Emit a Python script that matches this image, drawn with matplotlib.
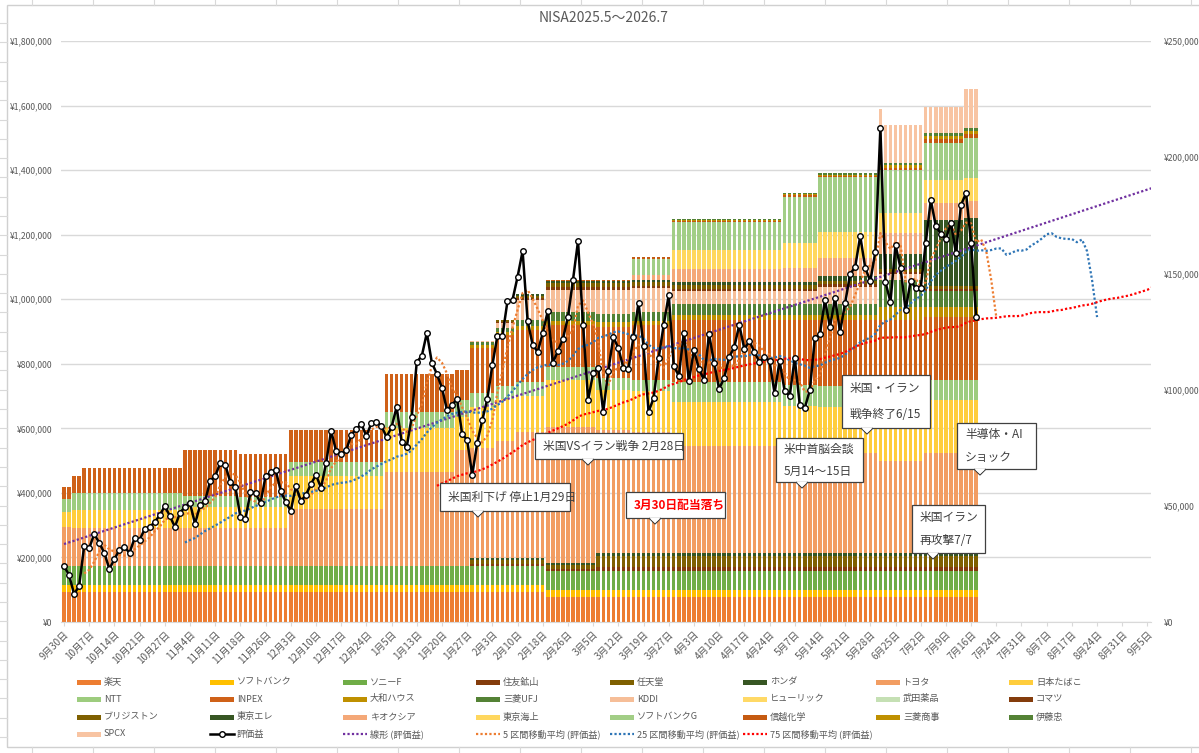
import numpy as np
import pandas as pd
import matplotlib
matplotlib.use("Agg")
import matplotlib.pyplot as plt
from matplotlib.patches import Rectangle, Polygon
from matplotlib.lines import Line2D
from matplotlib.ticker import FuncFormatter, MultipleLocator

plt.rcParams['font.family'] = ['Noto Sans CJK JP', 'DejaVu Sans']

# ---- data -------------------------------------------------------------
tick_labels = ['9月30日', '10月7日', '10月14日', '10月21日', '10月27日', '11月4日',
               '11月11日', '11月18日', '11月26日', '12月3日', '12月10日', '12月17日',
               '12月24日', '1月5日', '1月13日', '1月20日', '1月27日', '2月3日',
               '2月10日', '2月18日', '2月26日', '3月5日', '3月12日', '3月19日',
               '3月27日', '4月3日', '4月10日', '4月17日', '4月24日', '5月7日',
               '5月14日', '5月21日', '5月28日', '6月25日', '7月2日', '7月9日',
               '7月16日', '7月24日', '7月31日', '8月7日', '8月17日', '8月24日',
               '8月31日', '9月5日']
n_cats = 217      # category slots on the axis (data + blank future days)
n_bars = 182      # days with data

# holdings (thousand yen), one value per period; period starts below
period_start = [0, 2, 4, 24, 35, 45, 64, 78, 81, 86, 90, 96, 106, 113, 121, 143, 150, 162, 163, 171, 179]

rakuten   = [93, 93, 93, 93, 93, 93, 93, 93, 93, 93, 93, 78, 78, 78, 78, 78, 78, 78, 78, 78, 78]
softbank  = [21] * 21
sony      = [60] * 21
sumitomo  = [0, 0, 0, 0, 0, 0, 0, 0, 5, 5, 5, 5, 12, 12, 12, 12, 12, 12, 12, 12, 12]
nintendo  = [0, 0, 0, 0, 0, 0, 0, 0, 12, 12, 12, 12, 32, 32, 32, 32, 32, 32, 32, 32, 32]
honda     = [0, 0, 0, 0, 0, 0, 0, 0, 6, 6, 6, 6, 12, 12, 12, 12, 12, 12, 12, 12, 12]
toyota    = [121, 118, 118, 116, 116, 176, 291, 359, 341, 363, 393, 422, 380, 375, 330, 315, 310, 285, 285, 309, 309]
jt        = [45, 55, 55, 65, 67, 102, 135, 102, 128, 130, 110, 146, 125, 125, 137, 140, 140, 188, 188, 164, 164]
ntt       = [40, 53, 53, 35, 31, 44, 50, 53, 43, 40, 45, 40, 35, 35, 62, 65, 65, 62, 62, 62, 62]
inpex     = [38, 52, 77, 143, 132, 99, 118, 92, 141, 160, 160, 130, 160, 170, 191, 200, 205, 185, 185, 195, 195]
daiwa     = [0, 0, 0, 0, 0, 0, 0, 0, 8, 10, 12, 14, 14, 14, 15, 15, 15, 41, 41, 31, 31]
mufg      = [0, 0, 0, 0, 0, 0, 0, 0, 8, 12, 20, 25, 25, 25, 35, 35, 35, 83, 83, 50, 50]
kddi      = [0, 0, 0, 0, 0, 0, 0, 0, 4, 15, 60, 70, 75, 75, 40, 40, 53, 20, 20, 0, 0]
hulic     = [0] * 21
takeda    = [0] * 21
komatsu   = [0, 0, 0, 0, 0, 0, 0, 0, 0, 3, 6, 8, 8, 8, 8, 8, 8, 5, 5, 5, 5]
bridgestone = [0, 0, 0, 0, 0, 0, 0, 0, 0, 5, 8, 12, 12, 12, 12, 12, 12, 10, 10, 10, 10]
tel       = [0, 0, 0, 0, 0, 0, 0, 0, 0, 0, 4, 6, 6, 6, 8, 8, 15, 47, 47, 205, 212]
kioxia    = [0, 0, 0, 0, 0, 0, 0, 0, 0, 0, 0, 0, 0, 15, 40, 45, 55, 63, 63, 52, 52]
tokio     = [0, 0, 0, 0, 0, 0, 0, 0, 0, 0, 0, 0, 0, 0, 60, 75, 80, 62, 62, 71, 71]
sbg       = [0, 0, 0, 0, 0, 0, 0, 0, 0, 0, 0, 0, 0, 50, 85, 145, 170, 135, 135, 115, 125]
shinetsu  = [0, 0, 0, 0, 0, 0, 0, 0, 0, 0, 0, 5, 5, 5, 4, 4, 4, 7, 7, 11, 11]
mitsubishi = [0, 0, 0, 0, 0, 0, 0, 0, 0, 0, 0, 0, 0, 0, 4, 4, 4, 7, 7, 10, 10]
itochu    = [0, 0, 0, 0, 0, 0, 0, 0, 0, 0, 0, 0, 0, 0, 4, 4, 4, 7, 7, 10, 10]
spcx      = [0, 0, 0, 0, 0, 0, 0, 0, 0, 0, 0, 0, 0, 0, 0, 0, 0, 168, 118, 80, 118]

# 評価益 (thousand yen), one value per day
gain = [24.1, 20.2, 12.0, 15.5, 32.7, 31.8, 37.9, 34.0, 29.7, 22.8,
        27.1, 31.0, 32.3, 29.7, 36.1, 35.3, 40.0, 40.9, 43.0, 46.0,
        49.9, 45.6, 40.9, 46.9, 49.5, 51.2, 42.2, 50.3, 52.1, 60.7,
        62.8, 68.4, 67.6, 60.2, 58.1, 45.2, 44.3, 55.9, 55.5, 51.2,
        62.8, 64.5, 65.4, 56.4, 51.6, 47.8, 58.5, 52.1, 54.6, 59.4,
        63.3, 57.7, 68.4, 82.2, 73.6, 72.3, 74.0, 80.5, 83.0, 85.2,
        80.0, 85.6, 86.1, 84.3, 79.6, 83.9, 92.5, 77.5, 75.3, 88.2,
        111.9, 114.5, 124.4, 111.5, 106.7, 100.7, 91.2, 93.4, 96.0, 80.9,
        78.3, 63.3, 77.0, 86.9, 96.0, 110.6, 123.1, 123.1, 138.1, 138.6,
        148.5, 159.6, 129.5, 119.2, 116.2, 124.4, 133.8, 111.5, 116.6, 121.8,
        131.2, 147.2, 163.9, 127.8, 95.5, 107.1, 109.3, 90.4, 108.0, 122.6,
        117.9, 109.3, 108.9, 122.6, 137.3, 118.8, 90.4, 96.4, 113.6, 127.8,
        140.7, 110.2, 105.9, 124.4, 103.7, 117.0, 108.9, 104.1, 123.9, 111.5,
        100.3, 105.0, 114.0, 118.3, 127.8, 117.5, 120.9, 116.2, 111.9, 114.0,
        112.3, 98.5, 112.3, 99.4, 97.2, 113.6, 93.4, 92.1, 99.8, 122.2,
        123.9, 138.6, 126.9, 139.4, 124.8, 137.3, 149.7, 152.8, 166.1, 152.3,
        146.7, 159.2, 212.6, 146.3, 137.7, 162.2, 152.3, 134.3, 146.7, 143.7,
        143.7, 163.1, 181.6, 170.4, 167.0, 164.8, 171.7, 158.8, 179.4, 184.6,
        163.1, 131.2]

holdings = [
    ('楽天', rakuten, '#ED7D31'), ('ソフトバンク', softbank, '#FFC000'),
    ('ソニーF', sony, '#70AD47'), ('住友鉱山', sumitomo, '#843C0C'),
    ('任天堂', nintendo, '#7F6000'), ('ホンダ', honda, '#375623'),
    ('トヨタ', toyota, '#F29D62'), ('日本たばこ', jt, '#FFCD3C'),
    ('NTT', ntt, '#9DCC7E'), ('INPEX', inpex, '#CF6118'),
    ('大和ハウス', daiwa, '#BF9000'), ('三菱UFJ', mufg, '#548235'),
    ('KDDI', kddi, '#F6BE98'), ('ヒューリック', hulic, '#FFD966'),
    ('武田薬品', takeda, '#C5E0B4'), ('コマツ', komatsu, '#843C0C'),
    ('ブリジストン', bridgestone, '#7F6000'), ('東京エレ', tel, '#375623'),
    ('キオクシア', kioxia, '#F4A878'), ('東京海上', tokio, '#FFD75E'),
    ('ソフトバンクG', sbg, '#A2CE86'), ('信越化学', shinetsu, '#C55A11'),
    ('三菱商事', mitsubishi, '#BF9000'), ('伊藤忠', itochu, '#548235'),
    ('SPCX', spcx, '#F8C4A2'),
]

# ---- figure -----------------------------------------------------------
W, H = 1199, 753
fig = plt.figure(figsize=(W / 100, H / 100), dpi=100)
ax = fig.add_axes([61 / W, 1 - 622 / H, (1151 - 61) / W, (622 - 41) / H])
ax2 = ax.twinx()

lengths = np.diff(period_start + [n_bars])
x = np.arange(n_bars)
bottom = np.zeros(n_bars)
for name, vals, col in holdings:
    v = np.repeat(vals, lengths) * 1000.0
    ax.bar(x, v, bottom=bottom, width=0.68, color=col, linewidth=0)
    bottom += v

gain_y = np.array(gain) * 1000.0
full = pd.Series(np.r_[gain_y, np.full(n_cats - n_bars, np.nan)])
xs = np.arange(n_cats)


def mov_avg(n):
    m = full.rolling(n, min_periods=1).mean()
    m[:n - 1] = np.nan
    return m


coef = np.polyfit(x, gain_y, 1)
dot = (0, (1, 1))
lines = [
    ('線形 (評価益)', np.polyval(coef, xs), '#7030A0'),
    ('5 区間移動平均 (評価益)', mov_avg(5), '#ED7D31'),
    ('25 区間移動平均 (評価益)', mov_avg(25), '#2E75B6'),
    ('75 区間移動平均 (評価益)', mov_avg(75), '#FF0000'),
]
for name, yv, col in lines:
    ax2.plot(xs, yv, color=col, lw=1.6, ls=dot)
ax2.plot(x, gain_y, color='black', lw=1.8, marker='o', ms=4,
         mfc='white', mec='black', mew=1.0)

ax.set_xlim(-0.6, 215.7)
ax.set_ylim(0, 1800000)
ax2.set_ylim(0, 250000)

yen = FuncFormatter(lambda v, p: '¥{:,.0f}'.format(v))
ax.yaxis.set_major_locator(MultipleLocator(200000))
ax2.yaxis.set_major_locator(MultipleLocator(50000))
ax.yaxis.set_major_formatter(yen)
ax2.yaxis.set_major_formatter(yen)
ax.tick_params(axis='y', length=0, labelsize=6.2, labelcolor='#595959', pad=6)
ax2.tick_params(axis='y', length=0, labelsize=6.2, labelcolor='#595959', pad=9)

ax.set_xticks(np.arange(len(tick_labels)) * 5)
ax.set_xticklabels(tick_labels, rotation=45, ha='right', rotation_mode='anchor',
                   fontsize=7, color='#595959')
ax.tick_params(axis='x', length=3, color='#D9D9D9', pad=2)

ax.grid(axis='y', color='#D9D9D9', lw=1)
ax.set_axisbelow(True)
for a in (ax, ax2):
    for s in a.spines.values():
        s.set_visible(False)
ax.spines['bottom'].set_visible(True)
ax.spines['bottom'].set_color('#D9D9D9')

fig.text(604 / W, 1 - 18 / H, 'NISA2025.5～2026.7', ha='center', va='center',
         fontsize=10, color='#595959')

fx = lambda px: px / W
fy = lambda py: 1 - py / H


# ---- callouts ----------------------------------------------------------
def callout(x0, y0, x1, y1, nx, rows, color='#404040', bold=False):
    fig.patches.append(Rectangle((fx(x0), fy(y1)), fx(x1) - fx(x0), fy(y0) - fy(y1),
                                 transform=fig.transFigure, facecolor='white',
                                 edgecolor='#404040', lw=0.9, zorder=5))
    fig.patches.append(Polygon([(fx(nx - 6), fy(y1)), (fx(nx), fy(y1 + 6)), (fx(nx + 6), fy(y1))],
                               closed=False, transform=fig.transFigure, facecolor='white',
                               edgecolor='#404040', lw=0.9, zorder=6))
    fig.patches.append(Polygon([(fx(nx - 5), fy(y1 + 0.5)), (fx(nx + 5), fy(y1 + 0.5)),
                                (fx(nx), fy(y1 + 5))], transform=fig.transFigure,
                               facecolor='white', edgecolor='none', zorder=7))
    n = len(rows)
    for i, t in enumerate(rows):
        ty = y0 + (y1 - y0) * (i + 0.5) / n
        fig.text(fx(x0 + 8), fy(ty), t, ha='left', va='center', fontsize=8.5,
                 color=color, fontweight='bold' if bold else 'normal', zorder=8)


callout(440, 483, 570, 511, 478, ['米国利下げ 停止1月29日'])
callout(535, 433, 683, 459, 588, ['米国VSイラン戦争 2月28日'])
callout(626, 492, 725, 518, 655, ['3月30日配当落ち'], color='#FF0000', bold=True)
callout(776, 438, 863, 482, 802, ['米中首脳会談', '5月14～15日'])
callout(842, 375, 930, 428, 867, ['米国・イラン', '戦争終了6/15'])
callout(957, 423, 1036, 469, 980, ['半導体・AI', 'ショック'])
callout(912, 505, 985, 553, 933, ['米国イラン', '再攻撃7/7'])

# ---- legend (Excel style grid, 8 columns) -------------------------------
entries = [('bar', n, c) for n, v, c in holdings]
entries.append(('gain', '評価益', 'black'))
entries += [('dot', n, c) for n, yv, c in lines]
col_x = [77, 210, 343, 476, 610, 743, 876, 1009]
row_y = [682, 699, 717, 734]
for k, (kind, name, col) in enumerate(entries):
    cx, ry = col_x[k % 8], row_y[k // 8]
    if kind == 'bar':
        fig.patches.append(Rectangle((fx(cx), fy(ry + 2.5)), 24 / W, 5 / H,
                                     transform=fig.transFigure, facecolor=col,
                                     edgecolor='none'))
    elif kind == 'gain':
        fig.lines.append(Line2D([fx(cx), fx(cx + 24)], [fy(ry), fy(ry)],
                                transform=fig.transFigure, color='black', lw=1.8))
        fig.lines.append(Line2D([fx(cx + 12)], [fy(ry)], transform=fig.transFigure,
                                marker='o', ms=4, mfc='white', mec='black', mew=1.0))
    else:
        fig.lines.append(Line2D([fx(cx), fx(cx + 24)], [fy(ry), fy(ry)],
                                transform=fig.transFigure, color=col, lw=1.6, ls=dot))
    fig.text(fx(cx + 27), fy(ry), name, ha='left', va='center', fontsize=6.6,
             color='#595959')

# chart frame and surrounding sheet grid
fig.patches.append(Rectangle((7 / W, 1 - 747 / H), 1.0, (747 - 5) / H,
                             transform=fig.transFigure, fill=False,
                             edgecolor='#D0D0D0', lw=1.0))
for gx in range(32, W, 61):
    fig.lines.append(Line2D([gx / W, gx / W], [1, 1 - 5 / H], transform=fig.transFigure,
                            color='#D9D9D9', lw=0.8))
    fig.lines.append(Line2D([gx / W, gx / W], [0, 1 - 747 / H], transform=fig.transFigure,
                            color='#D9D9D9', lw=0.8))
for gy in np.arange(23, H, 19.3):
    fig.lines.append(Line2D([0, 7 / W], [1 - gy / H, 1 - gy / H], transform=fig.transFigure,
                            color='#D9D9D9', lw=0.8))

fig.savefig('out.png', dpi=100)
